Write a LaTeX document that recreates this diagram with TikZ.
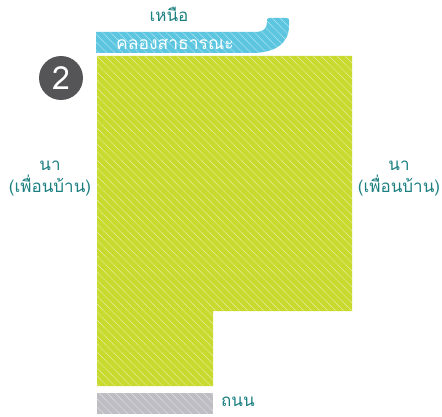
\documentclass[tikz,border=0pt]{standalone}
\usepackage{fontspec}
\newfontfamily\thaifont[Script=Thai]{Loma}
\definecolor{fieldgreen}{HTML}{C8DA2E}
\definecolor{canalblue}{HTML}{5CC6E0}
\definecolor{roadgray}{HTML}{BDBDC3}
\definecolor{labelteal}{HTML}{1C7F80}
\definecolor{badgegray}{HTML}{555558}
\tikzset{
  stripes/.style={white, opacity=0.5, line width=0.8pt, dash pattern=on 0.8pt off 0.7pt},
  lbl/.style={text=labelteal, font=\thaifont\fontsize{17}{22}\selectfont, align=center, inner sep=0pt},
}
\begin{document}
\begin{tikzpicture}[x=1pt,y=-1pt]
\useasboundingbox (0,0) rectangle (442,417);
% field
\path[fill=fieldgreen] (97,56) -- (352,56) -- (352,311) -- (213,311) -- (213,386) -- (97,386) -- cycle;
\begin{scope}
\clip (97,56) -- (352,56) -- (352,311) -- (213,311) -- (213,386) -- (97,386) -- cycle;
\foreach \k in {-400,-392,...,300} {
  \draw[stripes] (97+\k,56) -- ++(340,340);
}
\end{scope}
% road
\path[fill=roadgray] (97,393) rectangle (213,414);
\begin{scope}
\clip (97,393) rectangle (213,414);
\foreach \k in {-30,-22,...,130} {
  \draw[stripes] (97+\k,393) -- ++(25,25);
}
\end{scope}
% canal
\def\canal{(96,32) -- (254,32) .. controls (264,32) and (267,28) .. (267,22) -- (267,21) .. controls (267,18.5) .. (269.5,18) -- (286.5,18) .. controls (289,18.5) .. (289,21) -- (289,26) .. controls (289,44) and (274,53) .. (252,53) -- (96,53) -- cycle}
\path[fill=canalblue] \canal;
\begin{scope}
\clip \canal;
\foreach \k in {-40,-32,...,200} {
  \draw[stripes] (96+\k,18) -- ++(40,40);
}
\end{scope}
\node[inner sep=0pt, text=white, font=\thaifont\fontsize{17.5}{19}\selectfont] (canal) at (175,44) {คลองสาธารณะ};
\node[lbl] (north) at (169,14) {เหนือ};
% badge
\node[circle, fill=badgegray, minimum size=44pt, inner sep=0pt, text=white, font=\thaifont\fontsize{32}{34}\selectfont] (badge) at (61,78) {2};
% side labels
\node[lbl] (left) at (50,179) {นา\\(เพื่อนบ้าน)};
\node[lbl] (right) at (399,179) {นา\\(เพื่อนบ้าน)};
\node[lbl, anchor=west] (road) at (221,402) {ถนน};
\end{tikzpicture}
\end{document}
